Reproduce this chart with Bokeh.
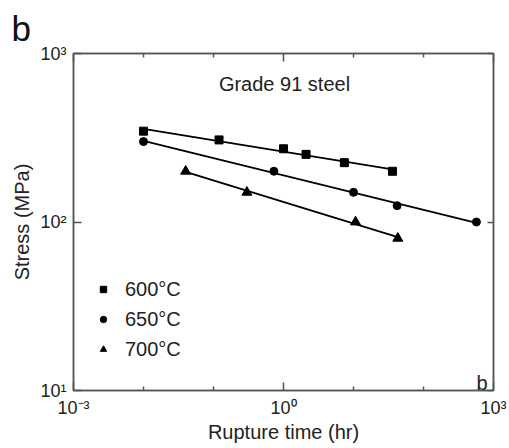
import numpy as np
from bokeh.plotting import figure
from bokeh.models import (Range1d, LogAxis, FixedTicker, Legend, LegendItem, Label)
from bokeh.embed import file_html
from bokeh.resources import INLINE

# ---- data ----
t600 = [0.01, 0.12, 1.0, 2.1, 7.4, 36.0]
s600 = [346, 307, 272, 252, 225, 200]
t650 = [0.01, 0.73, 10.0, 42.0, 570.0]
s650 = [300, 200, 150, 125, 100]
t700 = [0.04, 0.30, 10.7, 43.0]
s700 = [200, 150, 100, 80]
labels = ["600°C", "650°C", "700°C"]
x_major = [1e-3, 1.0, 1e3]
x_minor = [1e-2, 1e-1, 1e1, 1e2]
y_major = [10.0, 100.0, 1000.0]
x_tick_text = {1e-3: "10⁻³", 1.0: "10⁰", 1e3: "10³"}
y_tick_text = {10.0: "10¹", 100.0: "10²", 1000.0: "10³"}

FONT = "Liberation Sans"
AX = "#555555"
TXT = "#222222"

p = figure(width=509, height=448, x_axis_type="log", y_axis_type="log",
           x_range=Range1d(1e-3, 1e3), y_range=Range1d(10, 1000),
           output_backend="svg", toolbar_location=None,
           min_border_left=73, min_border_right=16, min_border_top=53, min_border_bottom=58)
p.grid.visible = False
p.background_fill_color = "white"
p.outline_line_color = AX
p.outline_line_width = 1.5

p.title.text = "b"
p.title.align = "left"
p.title.vertical_align = "top"
p.title.offset = -62
p.title.text_font = FONT
p.title.text_font_size = "35px"
p.title.text_font_style = "normal"
p.title.text_color = "#111111"
p.title.standoff = 8

xt = FixedTicker(ticks=x_major, minor_ticks=x_minor)
yt = FixedTicker(ticks=y_major, minor_ticks=[])

def style_axis(ax, major_len):
    ax.axis_line_color = AX
    ax.axis_line_width = 1.5
    ax.major_tick_line_color = AX
    ax.major_tick_line_width = 1.5
    ax.minor_tick_line_color = AX
    ax.minor_tick_line_width = 1.5
    ax.major_tick_in = major_len
    ax.major_tick_out = 0
    ax.minor_tick_in = 4
    ax.minor_tick_out = 0
    ax.major_label_text_font = FONT
    ax.major_label_text_font_size = "18px"
    ax.major_label_text_color = TXT
    ax.axis_label_text_font = FONT
    ax.axis_label_text_font_size = "20px"
    ax.axis_label_text_font_style = "normal"
    ax.axis_label_text_color = TXT

xa = p.xaxis[0]
xa.ticker = xt
xa.major_label_overrides = x_tick_text
xa.axis_label = "Rupture time (hr)"
style_axis(xa, 8)
xa.major_label_standoff = 7
xa.axis_label_standoff = 0

ya = p.yaxis[0]
ya.ticker = yt
ya.major_label_overrides = y_tick_text
ya.axis_label = "Stress (MPa)"
style_axis(ya, 8)
ya.major_label_standoff = 7
ya.axis_label_standoff = 4

top = LogAxis(ticker=xt, major_label_overrides={k: "" for k in x_major})
style_axis(top, 8)
top.major_label_text_font_size = "1px"
top.major_label_standoff = 0
p.add_layout(top, "above")
right = LogAxis(ticker=yt, major_label_overrides={k: "" for k in y_major})
style_axis(right, 6)
right.major_label_text_font_size = "1px"
right.major_label_standoff = 0
p.add_layout(right, "right")

# ---- fits + markers ----
series = [(t600, s600, "square", 8), (t650, s650, "circle", 8), (t700, s700, "triangle", 10)]
marker_renderers = []
for t, s, mk, sz in series:
    lt, ls = np.log10(t), np.log10(s)
    k, b = np.polyfit(lt, ls, 1)
    xs = [t[0], t[-1]]
    ys = [10 ** (b + k * np.log10(x)) for x in xs]
    p.line(xs, ys, line_color="black", line_width=1.8)
    r = p.scatter(t, s, marker=mk, size=sz, fill_color="black", line_color="black")
    marker_renderers.append(r)

legend = Legend(items=[LegendItem(label=l, renderers=[r]) for l, r in zip(labels, marker_renderers)],
                location=(22, 26), padding=0, margin=0, spacing=0,
                glyph_width=16, glyph_height=16, label_height=30, label_standoff=14,
                border_line_color=None, background_fill_alpha=0,
                label_text_font=FONT, label_text_font_size="20px", label_text_color=TXT)
p.add_layout(legend, "center")

p.add_layout(Label(x=211, y=307, x_units="screen", y_units="screen", text="Grade 91 steel",
                   text_font=FONT, text_font_size="20px", text_color=TXT, text_align="center",
                   text_baseline="alphabetic"))
p.add_layout(Label(x=403, y=8, x_units="screen", y_units="screen", text="b",
                   text_font=FONT, text_font_size="20px", text_color=TXT,
                   text_baseline="alphabetic"))

open("out.html", "w").write(file_html(p, INLINE))
